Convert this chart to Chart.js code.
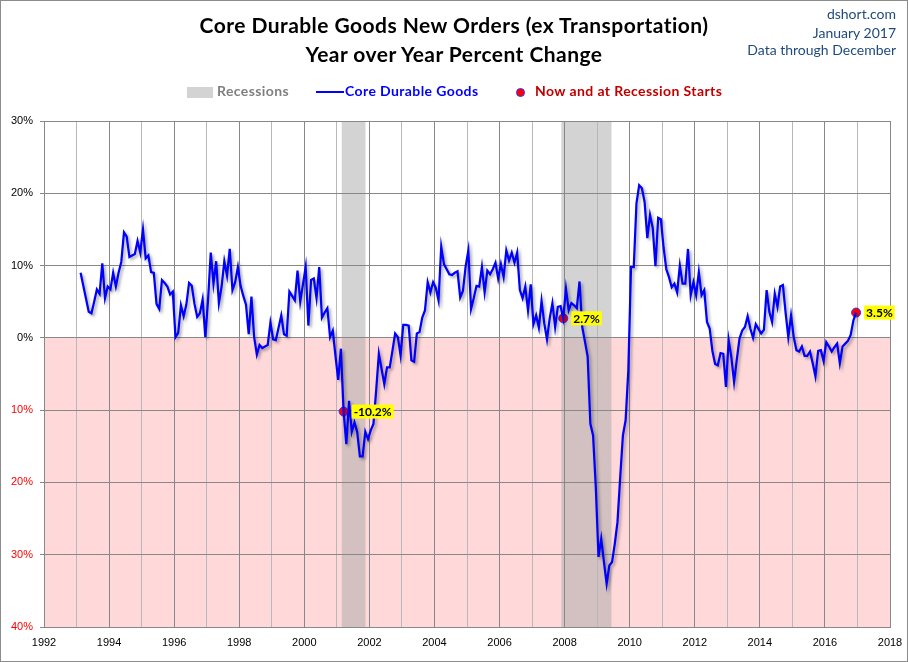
<!DOCTYPE html>
<html>
<head>
<meta charset="utf-8">
<script src="https://cdn.jsdelivr.net/npm/chart.js@4.4.1/dist/chart.umd.min.js"></script>
<style>
  body { margin: 0; background: #fff; }
  #frame { position: absolute; left: 0; top: 0; width: 908px; height: 662px; border: 1px solid #8c8c8c; box-sizing: border-box; }
  #chart { position: absolute; left: 0; top: 0; }
  .txt { position: absolute; white-space: nowrap; font-family: Lato, "Open Sans", sans-serif; line-height: 24px; }
  .title { left: 0; width: 908px; text-align: center; font-size: 21px; font-weight: bold; letter-spacing: 0.45px; color: #000; }
  .src { right: 12px; text-align: right; font-size: 14px; color: #1f497d; line-height: 18px; }
  .leg { font-size: 14px; font-weight: bold; letter-spacing: 0.4px; top: 79px; }
</style>
</head>
<body>
<div id="frame"></div>
<canvas id="chart" width="908" height="662"></canvas>

<div class="txt title" style="top:13px">Core Durable Goods New Orders (ex Transportation)</div>
<div class="txt title" style="top:42px">Year over Year Percent Change</div>
<div class="txt src" style="top:5px">dshort.com</div>
<div class="txt src" style="top:24px">January 2017</div>
<div class="txt src" style="top:41px">Data through December</div>

<div style="position:absolute;left:187px;top:87px;width:26px;height:11px;background:#d3d3d3"></div>
<div class="txt leg" style="left:217px;color:#808080">Recessions</div>
<div style="position:absolute;left:316px;top:91px;width:28px;height:2px;background:#0000ff"></div>
<div class="txt leg" style="left:345px;color:#0000ff">Core Durable Goods</div>
<div style="position:absolute;left:516px;top:88px;width:7px;height:7px;border-radius:50%;background:#ff0000;border:1px solid #3030ff"></div>
<div class="txt leg" style="left:535px;color:#c00000">Now and at Recession Starts</div>

<script>
// monthly YoY % change, Feb 1993 .. Dec 2016
const startYear = 1993;
const startMonth = 2;
const yoyChange = [
  9.0, 7.2, 5.4, 3.6, 3.4, 5.0, 6.7, 6.1, 10.3, 5.5, 7.1,             // 1993
  6.7, 9.0, 7.1, 9.0, 10.5, 14.6, 14.0, 11.2, 11.4, 11.6, 13.4, 11.8,  // 1994
  15.0, 11.0, 11.4, 9.1, 9.0, 4.7, 4.0, 8.0, 7.6, 7.1, 6.0, 6.4,       // 1995
  0.1, 0.7, 4.5, 3.0, 4.6, 7.6, 7.2, 4.7, 2.9, 3.4, 5.3, 0.1,          // 1996
  5.2, 11.8, 7.5, 10.6, 4.8, 7.1, 10.6, 8.6, 12.3, 6.6, 7.7, 9.8,      // 1997
  7.2, 5.8, 4.6, 0.5, 5.7, 0.1, -2.3, -1.0, -1.4, -1.2, -1.0, 2.1,     // 1998
  -0.2, -0.3, 1.4, 3.1, 0.5, 0.3, 6.4, 5.8, 5.2, 9.3, 5.0, 7.4,        // 1999
  9.8, 1.7, 8.0, 8.2, 5.5, 9.8, 2.8, 3.5, 4.1, 0.1, 1.0, -2.5,         // 2000
  -5.8, -1.5, -10.2, -14.7, -8.7, -13.0, -11.7, -13.0, -16.4, -16.4, -13.0, -14.0, // 2001
  -12.8, -11.9, -7.3, -2.2, -4.3, -6.4, -4.1, -4.1, -1.8, 0.6, 0.1, -2.4, // 2002
  1.8, 1.8, 1.7, -3.1, -3.3, 0.6, 0.8, 2.8, 3.8, 7.7, 6.3, 7.7,        // 2003
  6.9, 5.2, 12.6, 10.2, 9.5, 8.8, 8.7, 9.0, 9.2, 5.6, 6.5, 9.9,        // 2004
  12.1, 4.0, 5.5, 7.2, 7.1, 9.8, 6.3, 9.3, 8.8, 9.5, 10.4, 8.2,        // 2005
  10.2, 8.4, 12.1, 10.7, 11.8, 10.4, 11.8, 6.6, 5.5, 7.1, 3.8, 7.4,    // 2006
  1.9, 3.1, 1.4, 5.1, 2.0, -0.2, 2.7, 4.8, 1.5, 4.3, 4.4, 2.7,         // 2007
  6.8, 3.8, 4.8, 4.5, 4.1, 7.8, 1.5, -0.5, -2.6, -11.9, -13.5, -20.6,  // 2008
  -30.3, -27.8, -31.0, -34.0, -31.5, -31.0, -28.5, -25.5, -19.3, -13.5, -11.4, -4.5, // 2009
  9.8, 9.8, 18.6, 21.1, 20.7, 18.8, 13.8, 17.0, 15.2, 9.9, 16.6, 16.4, // 2010
  12.5, 9.5, 8.4, 7.0, 7.5, 6.3, 10.0, 7.5, 7.5, 12.3, 5.9, 7.7,       // 2011
  5.9, 9.1, 5.9, 6.6, 2.2, 1.3, -1.8, -3.6, -3.8, -2.1, -2.2, -6.8,    // 2012
  -0.3, -2.7, -6.1, -3.0, -0.1, 1.0, 1.5, 3.0, 1.25, 0.0, 1.9, 1.25,   // 2013
  0.6, 1.1, 6.6, 3.6, 2.2, 6.1, 4.3, 7.1, 7.3, 3.5, 0.1, 3.1,          // 2014
  0.1, -1.7, -1.9, -1.2, -2.5, -2.5, -1.9, -3.5, -5.3, -1.8, -1.7, -3.2, // 2015
  -0.6, -1.2, -1.9, -1.3, -0.8, -3.5, -1.2, -0.8, -0.4, 0.4, 2.4, 3.5  // 2016
];

// recession bands in decimal years
const recessionStart = [2001.15, 2007.9];
const recessionEnd = [2001.88, 2009.44];

// highlighted months (recession starts and latest)
const markerYears = [2001, 2007, 2016];
const markerMonths = [3, 12, 12];

const yearTicks = [1992, 1994, 1996, 1998, 2000, 2002, 2004, 2006, 2008, 2010, 2012, 2014, 2016, 2018];
const pctTicks = [30, 20, 10, 0, -10, -20, -30, -40];

function monthPos(year, month) { return year + (month - 0.5) / 12; }

const linePoints = yoyChange.map((v, i) => {
  const m = startMonth - 1 + i;
  return { x: monthPos(startYear + Math.floor(m / 12), (m % 12) + 1), y: v };
});
const markerPoints = markerYears.map((yr, i) => {
  const idx = (yr - startYear) * 12 + markerMonths[i] - startMonth;
  return { x: monthPos(yr, markerMonths[i]), y: yoyChange[idx] };
});

const backdrop = {
  id: 'backdrop',
  beforeDraw(chart) {
    const { ctx, chartArea: a, scales: { x, y } } = chart;
    ctx.save();
    const y0 = y.getPixelForValue(0);
    ctx.fillStyle = '#ffd9d9';
    ctx.fillRect(a.left, y0, a.right - a.left, a.bottom - y0);
    ctx.fillStyle = 'rgba(167,167,167,0.5)';
    recessionStart.forEach((s, i) => {
      const l = x.getPixelForValue(s), r = x.getPixelForValue(recessionEnd[i]);
      ctx.fillRect(l, a.top, r - l, a.bottom - a.top);
    });
    ctx.restore();
  },
  beforeDatasetDraw(chart, args) {
    if (args.index !== 0) return;
    const c = chart.ctx;
    c.save();
    c.shadowColor = 'rgba(0,0,0,0.35)';
    c.shadowBlur = 3;
    c.shadowOffsetX = 2;
    c.shadowOffsetY = 2;
  },
  afterDatasetDraw(chart, args) {
    if (args.index === 0) chart.ctx.restore();
  },
  afterDatasetsDraw(chart) {
    const ctx = chart.ctx;
    const pts = chart.getDatasetMeta(1).data;
    ctx.save();
    ctx.font = 'bold 12px Lato';
    ctx.textBaseline = 'middle';
    pts.forEach((p, i) => {
      const label = markerPoints[i].y.toFixed(1) + '%';
      const w = ctx.measureText(label).width + 4;
      const left = p.x + 8;
      ctx.fillStyle = '#ffff00';
      ctx.fillRect(left, p.y - 7, w, 14);
      ctx.fillStyle = '#000';
      ctx.fillText(label, left + 2, p.y + 1);
    });
    ctx.restore();
  }
};

Chart.defaults.font.family = '"Liberation Sans", Arial, sans-serif';

new Chart(document.getElementById('chart'), {
  type: 'line',
  data: {
    datasets: [{
      label: 'Core Durable Goods',
      data: linePoints,
      borderColor: '#0000ff',
      borderWidth: 2.25,
      pointRadius: 0,
      tension: 0
    }, {
      label: 'Now and at Recession Starts',
      data: markerPoints,
      showLine: false,
      pointRadius: 4.5,
      pointBackgroundColor: '#ff0000',
      pointBorderColor: '#3030ff',
      pointBorderWidth: 1
    }]
  },
  options: {
    responsive: false,
    animation: false,
    devicePixelRatio: 1,
    layout: { padding: { left: 0, top: 121, right: 18, bottom: 0 } },
    plugins: { legend: { display: false }, tooltip: { enabled: false } },
    scales: {
      x: {
        type: 'linear',
        min: 1992,
        max: 2018,
        afterBuildTicks(scale) {
          const t = [];
          for (let v = yearTicks[0]; v <= yearTicks[yearTicks.length - 1]; v++) t.push({ value: v });
          scale.ticks = t;
        },
        afterFit(scale) {
          scale.height = 35;
          scale.paddingLeft = 0;
          scale.paddingRight = 0;
        },
        ticks: {
          autoSkip: false,
          maxRotation: 0,
          padding: 9,
          color: '#000',
          font: { size: 11 },
          callback: v => yearTicks.includes(v) ? String(v) : ''
        },
        grid: {
          drawTicks: false,
          color: c => (c.tick && yearTicks.includes(c.tick.value)) ? '#888888' : '#b8b8b8'
        },
        border: { color: '#888888' }
      },
      y: {
        min: -40,
        max: 30,
        afterBuildTicks(scale) { scale.ticks = pctTicks.map(v => ({ value: v })); },
        afterFit(scale) { scale.width = 44; },
        ticks: {
          padding: 7,
          color: c => c.tick.value < 0 ? '#ff0000' : '#000000',
          font: { size: 11 },
          callback: v => Math.abs(v) + '%'
        },
        grid: { color: '#888888', tickLength: 4 },
        border: { color: '#888888' }
      }
    }
  },
  plugins: [backdrop]
});
</script>
</body>
</html>
